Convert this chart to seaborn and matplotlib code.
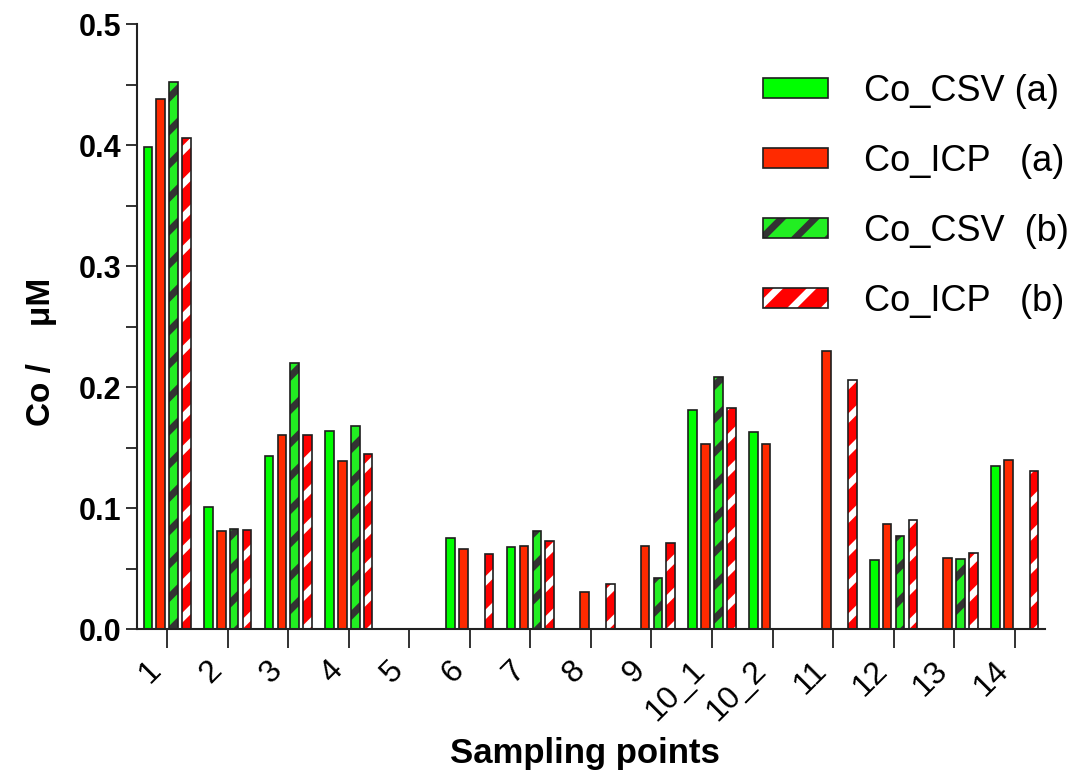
import numpy as np
import pandas as pd
import seaborn as sns
import matplotlib.pyplot as plt
from matplotlib.patches import Patch, Rectangle
from matplotlib.legend_handler import HandlerTuple
from matplotlib.ticker import MultipleLocator

points = ['1', '2', '3', '4', '5', '6', '7', '8', '9', '10_1', '10_2', '11', '12', '13', '14']
nan = np.nan
co_csv_a = [0.398, 0.101, 0.143, 0.164, nan, 0.075, 0.068, nan, nan, 0.181, 0.163, nan, 0.057, nan, 0.135]
co_icp_a = [0.438, 0.081, 0.160, 0.139, nan, 0.066, 0.069, 0.031, 0.069, 0.153, 0.153, 0.230, 0.087, 0.059, 0.140]
co_csv_b = [0.452, 0.083, 0.220, 0.168, nan, nan, 0.081, nan, 0.042, 0.208, nan, nan, 0.077, 0.058, nan]
co_icp_b = [0.406, 0.082, 0.160, 0.145, nan, 0.062, 0.073, 0.037, 0.071, 0.183, nan, 0.206, 0.090, 0.063, 0.131]

series = ['Co_CSV (a)', 'Co_ICP   (a)', 'Co_CSV  (b)', 'Co_ICP   (b)']
face = ['#00ff00', '#ff2a00', '#22ee22', '#ff0000']
stripe = [None, None, '#333333', '#ffffff']
outline = '#1e1e1e'

sns.set_style('ticks')
plt.rcParams['font.family'] = ['Liberation Sans', 'DejaVu Sans']
plt.rcParams['hatch.linewidth'] = 5.0
plt.rcParams['text.color'] = 'black'
plt.rcParams['axes.labelcolor'] = 'black'
plt.rcParams['xtick.labelcolor'] = 'black'
plt.rcParams['ytick.labelcolor'] = 'black'

df = pd.DataFrame({
    'point': points * 4,
    'series': np.repeat(series, len(points)),
    'value': co_csv_a + co_icp_a + co_csv_b + co_icp_b,
}).dropna()

fig = plt.figure(figsize=(10.75, 7.76), dpi=100)
ax = fig.add_axes([0.1274, 0.1894, 0.8446, 0.7796])

sns.barplot(data=df, x='point', y='value', hue='series', order=points, hue_order=series,
            palette=face, saturation=1, width=0.85, gap=0.33, errorbar=None,
            edgecolor=outline, linewidth=1.2, legend=False, ax=ax)

# hatched series: stripes use the edge colour, so redraw the outline on top
for cont, st in zip(ax.containers, stripe):
    if st is None:
        continue
    for p in cont.patches:
        p.set_hatch('/')
        p.set_edgecolor(st)
        p.set_linewidth(0)
        ax.add_patch(Rectangle(p.get_xy(), p.get_width(), p.get_height(),
                               fill=False, edgecolor=outline, linewidth=1.2, zorder=p.get_zorder() + 0.1))

ax.set_xlim(-0.5, 14.5)
ax.set_ylim(0, 0.5)
ax.yaxis.set_major_locator(MultipleLocator(0.1))
ax.yaxis.set_minor_locator(MultipleLocator(0.05))
ax.yaxis.set_major_formatter(lambda v, pos: f'{v:.1f}')

sns.despine(ax=ax)
for s in ['left', 'bottom']:
    ax.spines[s].set_linewidth(1.5)
    ax.spines[s].set_color('#222222')

ax.tick_params(axis='y', which='both', length=8, width=1.3, color='#222222', labelsize=22)
ax.tick_params(axis='x', length=14, width=1.3, color='#222222', labelsize=23, pad=5)
for t in ax.get_yticklabels():
    t.set_fontweight('bold')
plt.setp(ax.get_xticklabels(), rotation=45, ha='right')

ax.set_xlabel('Sampling points', fontsize=25, fontweight='bold')
ax.set_ylabel('Co /    μM', fontsize=24, fontweight='bold')
ax.xaxis.set_label_coords(0.493, -0.178)
ax.yaxis.set_label_coords(-0.088, 0.458)

handles = []
for fc, st in zip(face, stripe):
    if st is None:
        handles.append(Patch(facecolor=fc, edgecolor=outline, linewidth=1.2))
    else:
        handles.append((Patch(facecolor=fc, edgecolor=st, hatch='/', linewidth=0),
                        Patch(fill=False, edgecolor=outline, linewidth=1.2)))

ax.legend(handles, series, handler_map={tuple: HandlerTuple(ndivide=1, pad=0)},
          loc='upper left', bbox_to_anchor=(0.71, 0.905), bbox_transform=fig.transFigure,
          frameon=False, fontsize=26, handlelength=1.8, handleheight=0.5,
          handletextpad=1.0, labelspacing=0.97, borderpad=0, borderaxespad=0)

fig.savefig('out.png', dpi=100)
